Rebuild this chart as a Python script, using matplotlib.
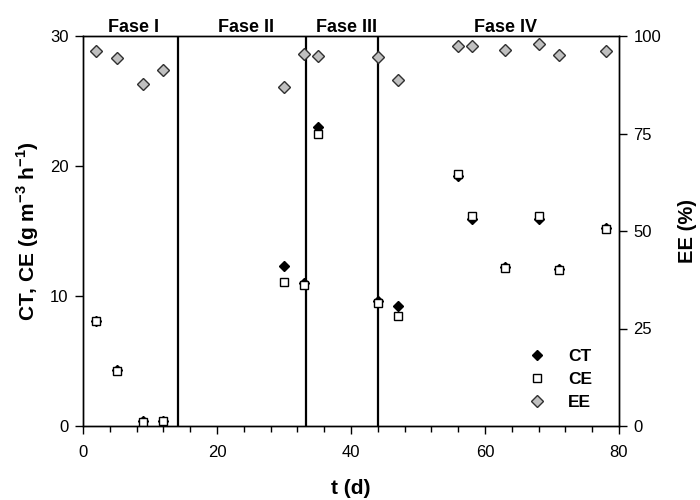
import matplotlib
matplotlib.use("Agg")
import matplotlib.pyplot as plt
from matplotlib.ticker import MultipleLocator

plt.rcParams['font.family'] = ['Liberation Sans', 'DejaVu Sans']
plt.rcParams['mathtext.fontset'] = 'custom'
plt.rcParams['mathtext.rm'] = 'Liberation Sans'
plt.rcParams['mathtext.bf'] = 'Liberation Sans:bold'

# Sampling days and measured values
days = [2, 5, 9, 12, 30, 33, 35, 44, 47, 56, 58, 63, 68, 71, 78]
ct = [8.1, 4.3, 0.35, 0.42, 12.3, 11.0, 23.0, 9.6, 9.2, 19.2, 15.95, 12.2, 15.9, 12.1, 15.2]   # g m-3 h-1
ce = [8.08, 4.23, 0.34, 0.41, 11.08, 10.88, 22.5, 9.46, 8.5, 19.4, 16.15, 12.18, 16.15, 11.98, 15.18]
ee = [96.2, 94.3, 87.7, 91.4, 86.9, 95.5, 94.8, 94.6, 88.6, 97.4, 97.4, 96.3, 98.0, 95.2, 96.1]  # %

# Phase boundaries and phase names
phase_limits = [14.2, 33.3, 44.1]
phase_names = ['Fase I', 'Fase II', 'Fase III', 'Fase IV']
phase_label_x = [7.5, 24.3, 39.4, 63.1]

fig = plt.figure(figsize=(7, 5), dpi=100)
ax = fig.add_axes([83/700, 74/500, 536/700, 390/500])
ax2 = ax.twinx()

for xl in phase_limits:
    ax.axvline(xl, color='black', lw=1.6, zorder=1)

ax.plot(days, ct, linestyle='none', marker='D', markersize=5.6,
        color='black', markeredgecolor='black', label='CT', zorder=3)
ax.plot(days, ce, linestyle='none', marker='s', markersize=6.2,
        markerfacecolor='white', markeredgecolor='black', markeredgewidth=1.0,
        label='CE', zorder=4)
ax2.plot(days, ee, linestyle='none', marker='D', markersize=5.8,
         markerfacecolor='#c0c0c0', markeredgecolor='#303030', markeredgewidth=1.0,
         label='EE', zorder=3)

ax.set_xlim(0, 80)
ax.set_ylim(0, 30)
ax2.set_ylim(0, 100)

ax.xaxis.set_major_locator(MultipleLocator(20))
ax.xaxis.set_minor_locator(MultipleLocator(4))
ax.yaxis.set_major_locator(MultipleLocator(10))
ax2.yaxis.set_major_locator(MultipleLocator(25))

for a in (ax, ax2):
    a.tick_params(which='major', direction='out', length=5.5, width=1, labelsize=12)
    a.tick_params(which='minor', direction='out', length=4, width=1)
    for s in a.spines.values():
        s.set_linewidth(1.0)
ax.tick_params(axis='x', pad=8)
ax.tick_params(axis='y', pad=5)
ax2.tick_params(axis='y', pad=5)

ax.set_xlabel('t (d)', fontsize=15, fontweight='bold', labelpad=14)
ax.set_ylabel('CT, CE (g m$^{\\mathbf{-3}}$ h$^{\\mathbf{-1}}$)', fontsize=15,
              fontweight='bold', labelpad=6)
ax2.set_ylabel('EE (%)', fontsize=14.5, fontweight='bold', rotation=90, labelpad=12)

for name, xp in zip(phase_names, phase_label_x):
    ax.text(xp, 30.3, name, ha='center', va='baseline', fontsize=13, fontweight='bold')

h1, l1 = ax.get_legend_handles_labels()
h2, l2 = ax2.get_legend_handles_labels()
leg = ax2.legend(h1 + h2, l1 + l2, loc='lower left', bbox_to_anchor=(0.830, 0.041),
                 frameon=False, prop={'weight': 'bold', 'size': 12.5},
                 borderpad=0, borderaxespad=0,
                 handletextpad=1.3, labelspacing=0.45, handlelength=1.0)

fig.savefig('out.png', dpi=100)
